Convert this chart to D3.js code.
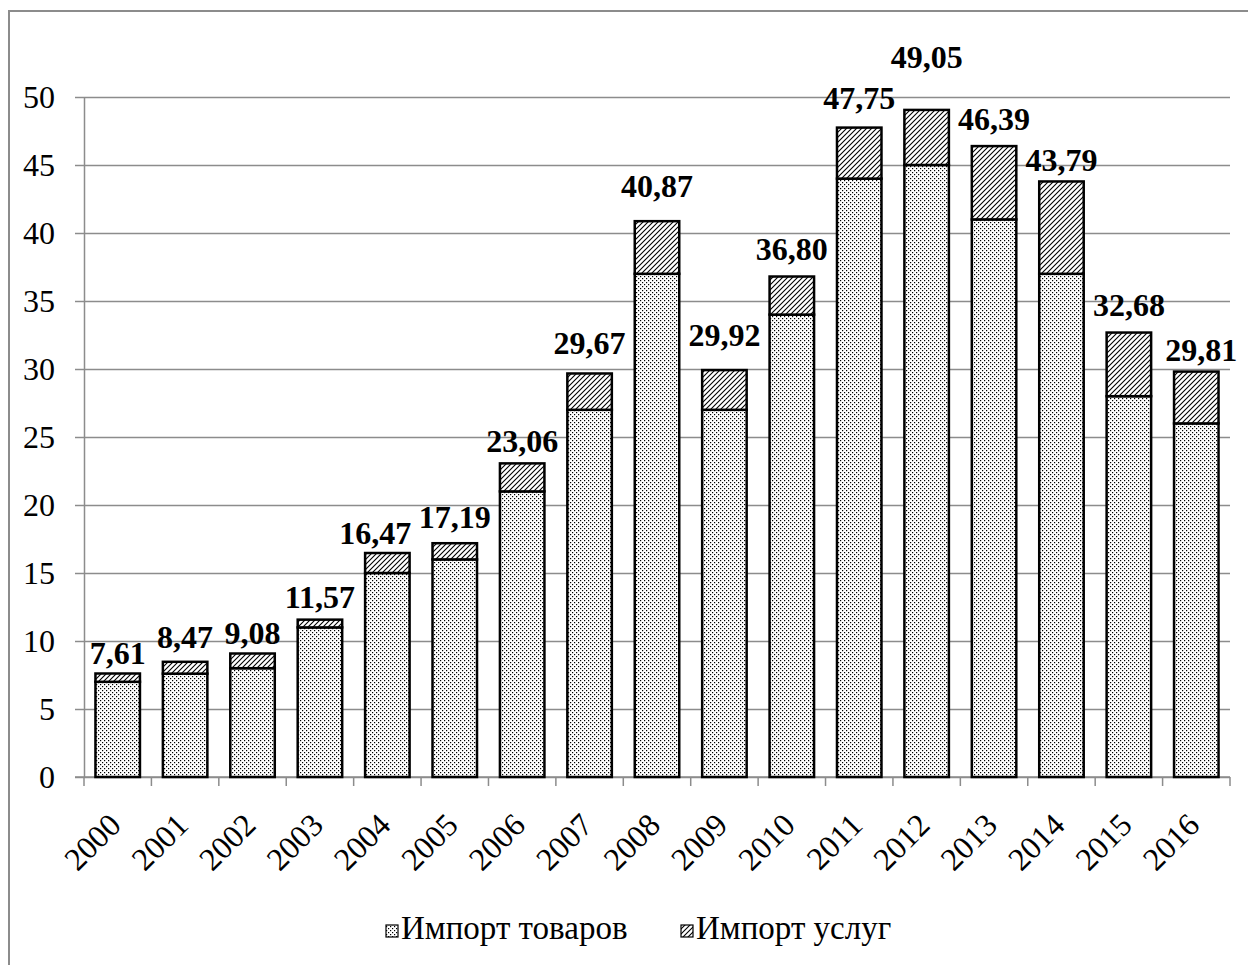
<!DOCTYPE html>
<html>
<head>
<meta charset="utf-8">
<script src="https://cdn.jsdelivr.net/npm/d3@7"></script>
<style>
  html, body { margin: 0; padding: 0; background: #fff; }
  svg { display: block; }
  text { font-family: "Liberation Serif", "Times New Roman", serif; fill: #000; }
</style>
</head>
<body>
<svg id="chart" width="1248" height="965"></svg>
<script>
// Years on the category axis
const years = ["2000","2001","2002","2003","2004","2005","2006","2007","2008",
               "2009","2010","2011","2012","2013","2014","2015","2016"];
// Total import (goods + services), as printed above each bar
const totals = [7.61, 8.47, 9.08, 11.57, 16.47, 17.19, 23.06, 29.67, 40.87,
                29.92, 36.80, 47.75, 49.05, 46.39, 43.79, 32.68, 29.81];
// Import of goods (lower segment)
const goods = [7.0, 7.6, 8.0, 11.0, 15.0, 16.0, 21.0, 27.0, 37.0,
               27.0, 34.0, 44.0, 45.0, 41.0, 37.0, 28.0, 26.0];
// Import of services is the remainder of the total
const services = totals.map((t, i) => +(t - goods[i]).toFixed(2));
// Value axis ticks
const yTicks = [0, 5, 10, 15, 20, 25, 30, 35, 40, 45, 50];
// Series names for the legend
const seriesNames = ["Импорт товаров", "Импорт услуг"];

// Hand placement of the total labels: [dx, lift above bar top]
const labelNudge = [[0,10],[0,14],[0,10],[0,12],[-12,9],[0,15],[0,11],[0,19],[0,24],
                    [0,24],[0,17],[0,19],[0,42],[0,16],[0,10],[0,17],[5,11]];

const svg = d3.select("#chart");
const plotLeft = 84, plotRight = 1230, plotTop = 97, plotBottom = 777;

const x = d3.scaleBand().domain(years).range([plotLeft, plotRight])
  .paddingInner(0.34).paddingOuter(0.17);
const y = d3.scaleLinear().domain([0, 50]).range([plotBottom, plotTop]);

// Patterns: fine dots for goods, diagonal hatching for services
const defs = svg.append("defs");
const dots = defs.append("pattern").attr("id", "dots")
  .attr("patternUnits", "userSpaceOnUse").attr("width", 4).attr("height", 4);
dots.append("rect").attr("width", 4).attr("height", 4).attr("fill", "#fff");
dots.append("rect").attr("x", 0).attr("y", 0).attr("width", 1.2).attr("height", 1.2).attr("fill", "#000");
dots.append("rect").attr("x", 2).attr("y", 2).attr("width", 1.2).attr("height", 1.2).attr("fill", "#000");

const hatch = defs.append("pattern").attr("id", "hatch")
  .attr("patternUnits", "userSpaceOnUse").attr("width", 5).attr("height", 5);
hatch.append("rect").attr("width", 5).attr("height", 5).attr("fill", "#fff");
hatch.append("path").attr("d", "M-1,1 l2,-2 M0,5 l5,-5 M4,6 l2,-2")
  .attr("stroke", "#000").attr("stroke-width", 1.1);

// Outer chart frame
svg.append("rect").attr("x", 9).attr("y", 11).attr("width", 1300).attr("height", 1000)
  .attr("fill", "none").attr("stroke", "#8c8c8c").attr("stroke-width", 2);

// Horizontal gridlines
const grid = svg.append("g").attr("transform", `translate(${plotLeft},0)`)
  .call(d3.axisLeft(y).tickValues(yTicks).tickSize(-(plotRight - plotLeft)).tickFormat(""));
grid.select(".domain").remove();
grid.selectAll("line").attr("stroke", "#8c8c8c").attr("stroke-width", 1.5);

// Value axis
const yAxis = svg.append("g").attr("transform", `translate(${plotLeft},0)`)
  .call(d3.axisLeft(y).tickValues(yTicks).tickSize(9).tickPadding(20).tickSizeOuter(0));
yAxis.select(".domain").attr("stroke", "#8c8c8c").attr("stroke-width", 1.5);
yAxis.selectAll("line").attr("stroke", "#8c8c8c").attr("stroke-width", 1.5);
yAxis.selectAll("text").attr("font-size", 32).attr("font-family", "Liberation Serif");

// Category axis with tick marks at the category boundaries
const xAxis = svg.append("g").attr("transform", `translate(0,${plotBottom})`);
xAxis.append("line").attr("x1", plotLeft - 9).attr("x2", plotRight).attr("y1", 0).attr("y2", 0)
  .attr("stroke", "#8c8c8c").attr("stroke-width", 1.5);
const boundary = i => i < years.length ? x(years[i]) - x.step() * x.paddingInner() / 2 : plotRight;
xAxis.selectAll("line.tick").data(d3.range(years.length + 1)).join("line")
  .attr("class", "tick")
  .attr("x1", boundary).attr("x2", boundary)
  .attr("y1", 0).attr("y2", 9)
  .attr("stroke", "#8c8c8c").attr("stroke-width", 1.5);
xAxis.selectAll("text").data(years).join("text")
  .attr("transform", d => `translate(${x(d) + x.bandwidth() / 2 + 5},50) rotate(-45)`)
  .attr("text-anchor", "end")
  .attr("font-size", 32)
  .text(d => d);

// Stacked bars
const bars = svg.append("g");
bars.selectAll("rect.goods").data(years).join("rect")
  .attr("class", "goods")
  .attr("x", d => x(d)).attr("width", x.bandwidth())
  .attr("y", (d, i) => y(goods[i]))
  .attr("height", (d, i) => y(0) - y(goods[i]))
  .attr("fill", "url(#dots)").attr("stroke", "#000").attr("stroke-width", 2.5);
bars.selectAll("rect.services").data(years).join("rect")
  .attr("class", "services")
  .attr("x", d => x(d)).attr("width", x.bandwidth())
  .attr("y", (d, i) => y(goods[i] + services[i]))
  .attr("height", (d, i) => y(goods[i]) - y(goods[i] + services[i]))
  .attr("fill", "url(#hatch)").attr("stroke", "#000").attr("stroke-width", 2.5);

// Total labels
const fmt = v => d3.format(".2f")(v).replace(".", ",");
svg.append("g").selectAll("text").data(years).join("text")
  .attr("x", (d, i) => x(d) + x.bandwidth() / 2 + labelNudge[i][0])
  .attr("y", (d, i) => y(totals[i]) - labelNudge[i][1])
  .attr("text-anchor", "middle")
  .attr("font-size", 32).attr("font-weight", "bold")
  .text((d, i) => fmt(totals[i]));

// Legend
const legendItems = [
  { name: seriesNames[0], fill: "url(#dots)", x: 386 },
  { name: seriesNames[1], fill: "url(#hatch)", x: 681 }
];
const legend = svg.append("g").selectAll("g").data(legendItems).join("g");
legend.append("rect").attr("x", d => d.x).attr("y", 925).attr("width", 12).attr("height", 12)
  .attr("fill", d => d.fill).attr("stroke", "#000").attr("stroke-width", 1.2);
legend.append("text").attr("x", d => d.x + 15).attr("y", 939).attr("font-size", 33)
  .text(d => d.name);
</script>
</body>
</html>
